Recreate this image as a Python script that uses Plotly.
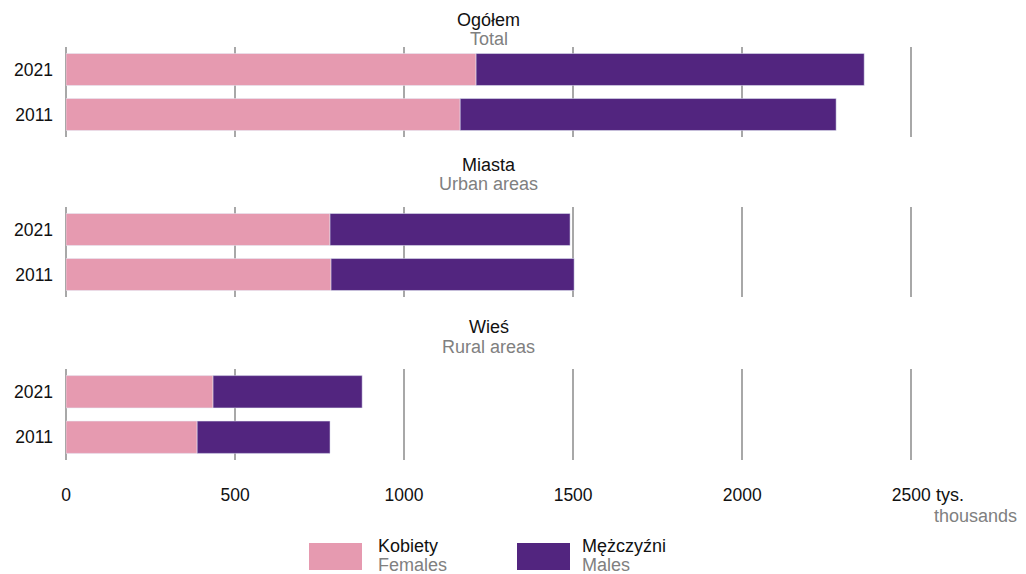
import plotly.graph_objects as go

years = ["2021", "2011"]
panels_pl = ["Ogółem", "Miasta", "Wieś"]
panels_en = ["Total", "Urban areas", "Rural areas"]
females = [[1213, 1166], [781, 784], [435, 388]]
males = [[1148, 1112], [710, 719], [441, 393]]
tick_vals = [0, 500, 1000, 1500, 2000, 2500]
tick_text = ["0", "500", "1000", "1500", "2000", "2500"]
series_pl = ["Kobiety", "Mężczyźni"]
series_en = ["Females", "Males"]

PINK = "#E69AB0"
PURPLE = "#52257F"
GRAY = "#808080"
GRID = "#a8a8a8"
FONT = "Liberation Sans, Arial, sans-serif"

# page has an 8px body margin; reference pixel coordinates are shifted by OFF
OFF = 8
W, H = 1026 - OFF, 574 - OFF
ML, MT = 66 - OFF, 47 - OFF
MR = W - (945 - OFF)
MB = H - (460 - OFF)
plot_h = H - MT - MB
plot_w = W - ML - MR

def py(pix):
    return (460 - pix) / plot_h

def px(pix):
    return (pix - 66) / plot_w

domains = [[py(137), 1.0], [py(297), py(207)], [0.0, py(369)]]
title_y = [(20, 39), (165, 184), (327, 347)]

fig = go.Figure()
for i in range(3):
    xa = "x" if i == 0 else f"x{i+1}"
    ya = "y" if i == 0 else f"y{i+1}"
    fig.add_trace(go.Bar(y=years, x=females[i], orientation="h", marker_color=PINK,
                         width=0.71, xaxis=xa, yaxis=ya, showlegend=False, name=series_pl[0]))
    fig.add_trace(go.Bar(y=years, x=males[i], orientation="h", marker_color=PURPLE,
                         width=0.71, xaxis=xa, yaxis=ya, showlegend=False, name=series_pl[1],
                         base=females[i]))

layout = dict(
    width=W, height=H, barmode="overlay",
    margin=dict(l=ML, r=MR, t=MT, b=MB),
    paper_bgcolor="white", plot_bgcolor="white",
    font=dict(family=FONT, size=18, color="#111"),
)
for i in range(3):
    sx = "" if i == 0 else str(i + 1)
    layout["xaxis" + sx] = dict(
        range=[0, 2600], domain=[0, 1], anchor="y" + sx, automargin=False,
        tickvals=tick_vals, ticktext=tick_text, showticklabels=(i == 2),
        showgrid=True, gridcolor=GRID, gridwidth=1.5,
        zeroline=True, zerolinecolor=GRID, zerolinewidth=1.5,
        showline=False, ticks="", ticklabelstandoff=22,
        tickfont=dict(size=17.5, color="#111"),
    )
    layout["yaxis" + sx] = dict(
        domain=domains[i], anchor="x" + sx, type="category", automargin=False,
        categoryorder="array", categoryarray=years[::-1],
        range=[-0.5, 1.5], showgrid=False, zeroline=False, showline=False,
        ticks="", ticklabelstandoff=12, tickfont=dict(size=17.5, color="#111"),
    )
fig.update_layout(**layout)

ann = []
for i in range(3):
    ann.append(dict(text=panels_pl[i], x=1250, xref="x3", y=py(title_y[i][0]), yref="paper",
                    showarrow=False, font=dict(size=18, color="#111"), xanchor="center", yanchor="middle"))
    ann.append(dict(text=panels_en[i], x=1250, xref="x3", y=py(title_y[i][1]), yref="paper",
                    showarrow=False, font=dict(size=18, color=GRAY), xanchor="center", yanchor="middle"))
ann.append(dict(text="tys.", x=2500, xref="x3", xshift=23, y=py(495), yref="paper",
                showarrow=False, font=dict(size=18, color="#111"), xanchor="left", yanchor="middle"))
ann.append(dict(text="thousands", x=2500, xref="x3", xshift=21, y=py(516), yref="paper",
                showarrow=False, font=dict(size=18, color=GRAY), xanchor="left", yanchor="middle"))

shapes = []
leg = [(309, 362, 376, PINK), (517, 570, 580, PURPLE)]
for k, (x0, x1, tx, col) in enumerate(leg):
    shapes.append(dict(type="rect", xref="paper", yref="paper", x0=px(x0), x1=px(x1),
                       y0=py(570), y1=py(543), fillcolor=col, line=dict(width=0)))
    ann.append(dict(text=series_pl[k], x=px(tx), xref="paper", y=py(546), yref="paper",
                    showarrow=False, font=dict(size=18, color="#111"), xanchor="left", yanchor="middle"))
    ann.append(dict(text=series_en[k], x=px(tx), xref="paper", y=py(565), yref="paper",
                    showarrow=False, font=dict(size=18, color=GRAY), xanchor="left", yanchor="middle"))

fig.update_layout(annotations=ann, shapes=shapes)
fig.write_html("out.html")
